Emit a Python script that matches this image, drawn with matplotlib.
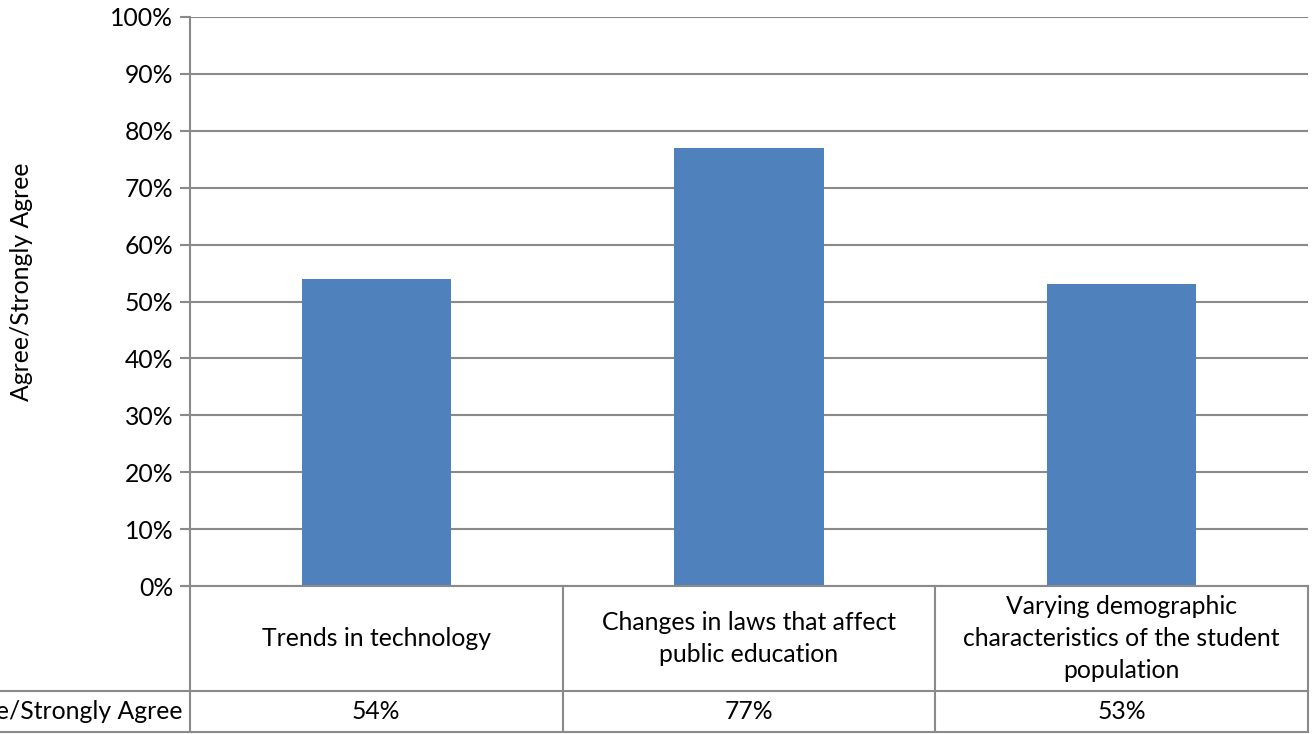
import matplotlib.pyplot as plt
from matplotlib.ticker import PercentFormatter

categories = ["Trends in technology",
              "Changes in laws that affect\npublic education",
              "Varying demographic\ncharacteristics of the student\npopulation"]
values = [0.54, 0.77, 0.53]
series_name = "Agree/Strongly Agree"
yticks = [i / 10 for i in range(11)]

plt.rcParams['font.family'] = ['Lato', 'DejaVu Sans']
W, H = 1314, 734
fig = plt.figure(figsize=(W / 100, H / 100), dpi=100)

# plot area in pixels
x0, x1, y0, y1 = 190, 1308, 586, 17
ax = fig.add_axes([x0 / W, (H - y0) / H, (x1 - x0) / W, (y0 - y1) / H])

grey = "#8a8a8a"
fs = 17.8

xs = range(len(values))
ax.bar(xs, values, width=0.4, color="#4F81BD", zorder=3)
ax.set_xlim(-0.5, len(values) - 0.5)
ax.set_ylim(0, 1)
ax.set_yticks(yticks)
ax.yaxis.set_major_formatter(PercentFormatter(1.0, decimals=0))
ax.set_xticks([])
ax.grid(axis="y", color=grey, linewidth=1.5, zorder=0)
for s in ["top", "right", "bottom"]:
    ax.spines[s].set_visible(False)
ax.spines["left"].set_color(grey)
ax.spines["left"].set_linewidth(1.5)
ax.tick_params(axis="y", length=7, width=1.5, color=grey, labelsize=fs, pad=5)

fig.text(22 / W, 1 - 282 / H, series_name, rotation=90, ha="center", va="center",
         fontsize=fs)

# data table below the plot
def fy(py):
    return 1 - py / H

def fx(px):
    return px / W

row1, row2 = 691, 732
col_edges = [x0 + (x1 - x0) * i / len(values) for i in range(len(values) + 1)]
lkw = dict(color=grey, linewidth=1.5, transform=fig.transFigure)
fig.add_artist(plt.Line2D([fx(183), fx(x1)], [fy(y0), fy(y0)], **lkw))
fig.add_artist(plt.Line2D([0, fx(x1)], [fy(row1), fy(row1)], **lkw))
fig.add_artist(plt.Line2D([0, fx(x1)], [fy(row2), fy(row2)], **lkw))
for cx in col_edges:
    fig.add_artist(plt.Line2D([fx(cx), fx(cx)], [fy(y0), fy(row2)], **lkw))

for i, (cat, v) in enumerate(zip(categories, values)):
    cx = (col_edges[i] + col_edges[i + 1]) / 2
    fig.text(fx(cx), fy((y0 + row1) / 2), cat, ha="center", va="center",
             fontsize=fs, linespacing=1.48)
    fig.text(fx(cx), fy((row1 + row2) / 2), f"{v:.0%}", ha="center", va="center",
             fontsize=fs)

fig.text(fx(183), fy((row1 + row2) / 2), series_name, ha="right", va="center",
         fontsize=fs)

fig.savefig("out.png", dpi=100)
